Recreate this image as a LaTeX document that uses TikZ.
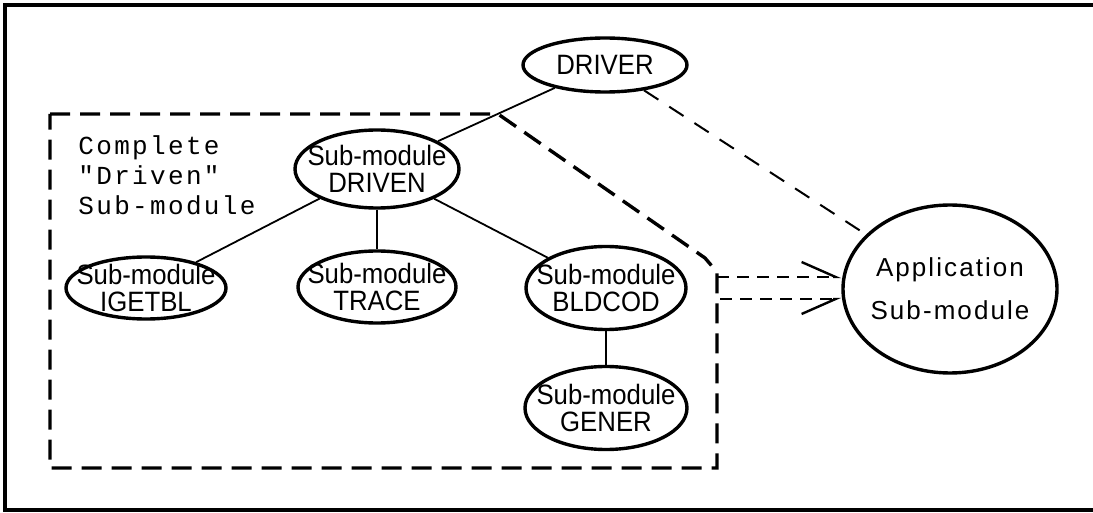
\documentclass[tikz,border=0pt]{standalone}
\usepackage{fontspec}
\setmainfont{Liberation Sans}
\newfontfamily\notefont[LetterSpace=9]{Liberation Mono}
\newfontfamily\modfont[FakeStretch=0.92]{Liberation Sans}
\newfontfamily\appfont[LetterSpace=8]{Liberation Sans}
\usetikzlibrary{arrows.meta, shapes.geometric}

\begin{document}
\begin{tikzpicture}[x=0.5pt, y=-0.5pt,
  module/.style={ellipse, draw, line width=1.7pt, inner xsep=-20pt, inner ysep=-12pt,
                 align=center, font=\modfont\fontsize{14}{13.5}\selectfont},
  appmod/.style={module, font=\appfont\fontsize{13}{21.5}\selectfont},
  link/.style={line width=0.9pt},
  calls/.style={line width=1pt, dash pattern=on 8.5pt off 6.5pt},
  feed/.style={line width=1.2pt, dash pattern=on 6pt off 4pt},
  gbox/.style={line width=1.7pt, dash pattern=on 10pt off 5pt},
  frame/.style={line width=2pt},
  lbl/.style={align=left, inner sep=0pt, font=\notefont\fontsize{13}{15}\selectfont},
]
\useasboundingbox (0,0) rectangle (1093,513);

% Page frame (open on the right)
\draw[frame] (1100,5) -- (5,5) -- (5,510) -- (1100,510);

% Top level
\node[module, minimum width=82pt, minimum height=27pt] (driver) at (605,65) {DRIVER};

% Driven sub-modules
\node[module, minimum width=82pt, minimum height=39pt] (driven) at (377,169)
  {Sub-module\\DRIVEN};
\node[module, minimum width=80pt, minimum height=31pt] (igetbl) at (146,288)
  {Sub-module\\IGETBL};
\node[module, minimum width=79pt, minimum height=36pt] (trace) at (377,287)
  {Sub-module\\TRACE};
\node[module, minimum width=80pt, minimum height=41.5pt] (bldcod) at (606,288)
  {Sub-module\\BLDCOD};
\node[module, minimum width=81pt, minimum height=41.5pt] (gener) at (606,408)
  {Sub-module\\GENER};

% Application
\node[appmod, minimum width=107pt, minimum height=84pt] (app) at (950,289)
  {Application\\Sub-module};

% Group label
\node[lbl, anchor=north west] (note) at (78,135) {Complete\\"Driven"\\Sub-module};

% Group boundary
\draw[gbox] (50,114) -- (498,114) -- (705,258) -- (717,272) -- (717,468)
  -- (50,468) -- cycle;
\coordinate (out1) at (717,277);
\coordinate (out2) at (720,299);

% Connectors
\draw[link] (driver) -- (driven);
\draw[link] (driven) -- (igetbl);
\draw[link] (driven) -- (trace);
\draw[link] (driven) -- (bldcod);
\draw[link] (bldcod) -- (gener);
\draw[calls] (driver) -- (app);
\draw[feed, -{Straight Barb[left, length=17pt, width=15pt]}] (out1) -- (out1 -| app.west);
\draw[feed, -{Straight Barb[right, length=17pt, width=15pt]}] (out2) -- (out2 -| app.west);

\end{tikzpicture}
\end{document}
